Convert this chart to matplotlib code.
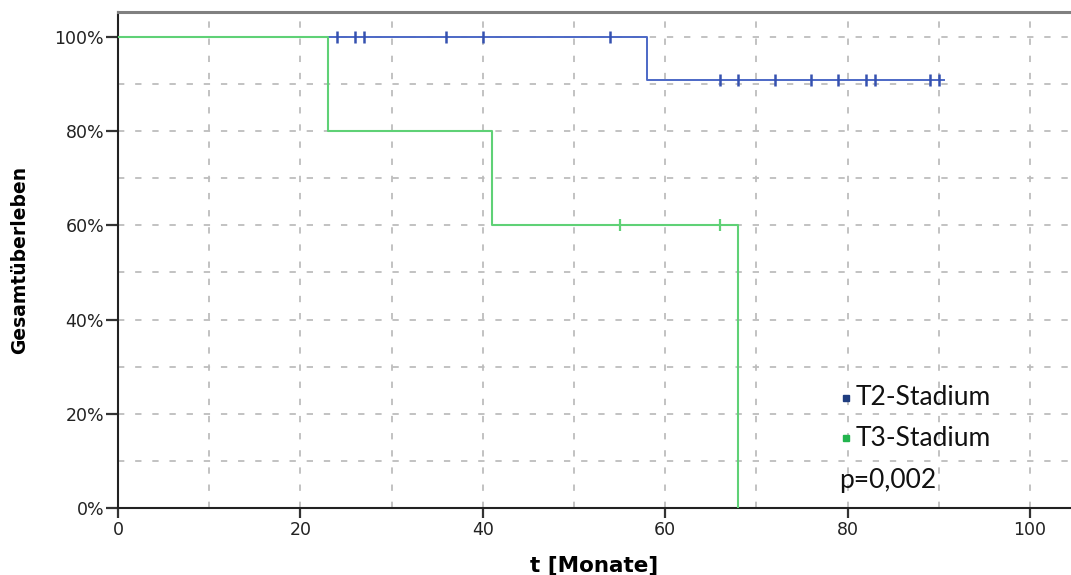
import numpy as np
import matplotlib
matplotlib.use("Agg")
import matplotlib.pyplot as plt
from matplotlib.ticker import MultipleLocator, FuncFormatter

# Kaplan-Meier data (months, survival in %)
t2_times = [0, 58]
t2_surv = [100, 90.9]
t2_end = 90.6
t2_censored = [24, 26, 27, 36, 40, 54, 66, 68, 72, 76, 79, 82, 83, 89, 90]

t3_times = [0, 23, 41, 68]
t3_surv = [100, 80, 60, 0]
t3_censored = [55, 66]

labels = ["T2-Stadium", "T3-Stadium"]
p_text = "p=0,002"

BLUE = "#4c68c6"
BLUE_DARK = "#3551b0"
GREEN = "#5fd176"
LEG_BLUE = "#1f3d80"
LEG_GREEN = "#22b44e"


def surv_at(times, surv, t):
    idx = np.searchsorted(times, t, side="right") - 1
    return np.asarray(surv)[idx]


fig = plt.figure(figsize=(10.71, 5.75), dpi=100)
ax = fig.add_axes([0.1102, 0.1165, 0.8898, 0.8626])

# T2
x2 = list(t2_times) + [t2_end]
y2 = list(t2_surv) + [t2_surv[-1]]
ax.step(x2, y2, where="post", color=BLUE, lw=1.4, zorder=3)
ax.plot(t2_censored, surv_at(t2_times, t2_surv, t2_censored), ls="none",
        marker="|", ms=9, mew=1.8, color=BLUE_DARK, zorder=3)

# T3
ax.step(t3_times, t3_surv, where="post", color=GREEN, lw=1.5, zorder=4)
ax.plot(t3_censored, surv_at(t3_times, t3_surv, t3_censored), ls="none",
        marker="|", ms=9, mew=1.6, color=GREEN, zorder=4)

ax.set_xlim(0, 104.5)
ax.set_ylim(0, 105.3)
ax.xaxis.set_major_locator(MultipleLocator(20))
ax.xaxis.set_minor_locator(MultipleLocator(10))
ax.yaxis.set_major_locator(MultipleLocator(20))
ax.yaxis.set_minor_locator(MultipleLocator(10))
ax.yaxis.set_major_formatter(FuncFormatter(lambda v, _: f"{v:.0f}%"))

ax.grid(True, which="both", color="#bdbdbd", ls=(0, (3.5, 6)), lw=1.3, zorder=1)
ax.tick_params(which="major", length=9, width=1.6, color="#333333",
               labelsize=12.5, labelcolor="#222222", pad=1)
ax.tick_params(axis="x", which="major", length=7, pad=2)
ax.tick_params(which="minor", length=0)

for s in ("left", "bottom"):
    ax.spines[s].set_color("#222222")
    ax.spines[s].set_linewidth(1.5)
ax.spines["top"].set_color("#808080")
ax.spines["top"].set_linewidth(2.2)
ax.spines["right"].set_visible(False)

ax.set_xlabel("t [Monate]", fontsize=15.5, fontweight="bold", labelpad=12)
ax.set_ylabel("Gesamtüberleben", fontsize=13.5, fontweight="bold", labelpad=18)

# legend-like annotation
leg_font = dict(fontsize=19, family=["Lato", "DejaVu Sans"], color="#111111",
                va="center", transform=ax.transAxes)
ax.plot([0.764], [0.222], marker="s", ms=3.8, color=LEG_BLUE,
        transform=ax.transAxes, clip_on=False)
ax.plot([0.764], [0.141], marker="s", ms=3.8, color=LEG_GREEN,
        transform=ax.transAxes, clip_on=False)
ax.text(0.774, 0.222, labels[0], **leg_font)
ax.text(0.774, 0.141, labels[1], **leg_font)
ax.text(0.757, 0.056, p_text, **leg_font)

fig.savefig("out.png", dpi=100)
